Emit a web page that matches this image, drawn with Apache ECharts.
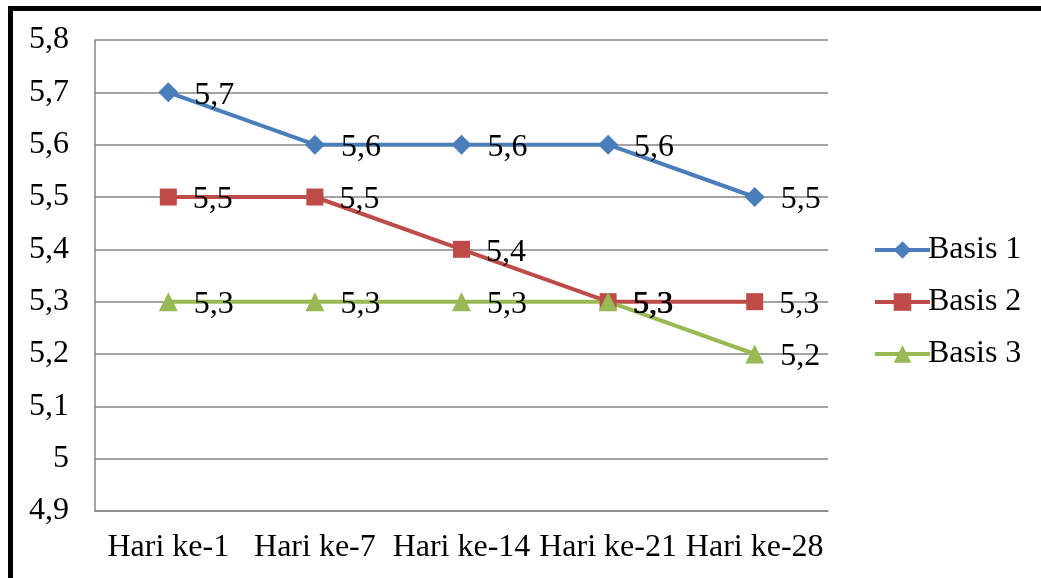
<!DOCTYPE html>
<html><head><meta charset="utf-8">
<script src="https://cdn.jsdelivr.net/npm/echarts@6/dist/echarts.min.js"></script>
<style>html,body{margin:0;padding:0;background:#fff}#c{width:1041px;height:578px}</style>
</head><body><div id="c"></div>
<script>
const categories = ['Hari ke-1','Hari ke-7','Hari ke-14','Hari ke-21','Hari ke-28'];
const basis1 = [5.7, 5.6, 5.6, 5.6, 5.5];
const basis2 = [5.5, 5.5, 5.4, 5.3, 5.3];
const basis3 = [5.3, 5.3, 5.3, 5.3, 5.2];
const seriesNames = ['Basis 1','Basis 2','Basis 3'];
const colors = ['#4a7ebb','#be4b48','#98b954'];
const symbols = ['diamond','rect','triangle'];
const symbolSizes = [20, 17, 19];
const font = '"Liberation Serif","Times New Roman",serif';
const fmt = v => String(v).replace('.', ',');
const chart = echarts.init(document.getElementById('c'));
const data = [basis1, basis2, basis3];
chart.setOption({
  animation: false,
  textStyle: {fontFamily: font},
  grid: {left: 95, right: 213, top: 40, bottom: 67},
  graphic: [
    {type: 'rect', shape: {x: 8, y: 6, width: 5, height: 572}, style: {fill: '#000'}},
    {type: 'rect', shape: {x: 8, y: 6, width: 1033, height: 5}, style: {fill: '#000'}}
  ],
  legend: {
    orient: 'vertical', left: 868, top: 229, itemGap: 20, itemWidth: 55, itemHeight: 22,
    lineStyle: {width: 4},
    textStyle: {fontFamily: font, fontSize: 32, color: '#000', padding: [0,0,0,-7]},
    data: seriesNames
  },
  xAxis: {
    type: 'category', data: categories, boundaryGap: true,
    axisLine: {lineStyle: {color: '#868686', width: 1.5}},
    axisTick: {show: false},
    axisLabel: {fontFamily: font, fontSize: 32, color: '#000', margin: 21, interval: 0}
  },
  yAxis: {
    type: 'value', min: 4.9, max: 5.8, interval: 0.1,
    axisLine: {show: true, lineStyle: {color: '#868686', width: 1.5}},
    axisTick: {show: false},
    splitLine: {lineStyle: {color: '#868686', width: 1.5}},
    axisLabel: {fontFamily: font, fontSize: 32, color: '#000', margin: 26,
      formatter: v => fmt(Math.round(v*10)/10)}
  },
  series: data.map((d, i) => ({
    name: seriesNames[i], type: 'line', data: d,
    symbol: symbols[i], symbolSize: symbolSizes[i],
    lineStyle: {color: colors[i], width: 4},
    itemStyle: {color: colors[i]},
    label: {show: true, position: 'right', distance: 16, offset: [0, 3], fontFamily: font, fontSize: 32, color: '#000',
      formatter: p => fmt(p.value)}
  }))
});
</script></body></html>
